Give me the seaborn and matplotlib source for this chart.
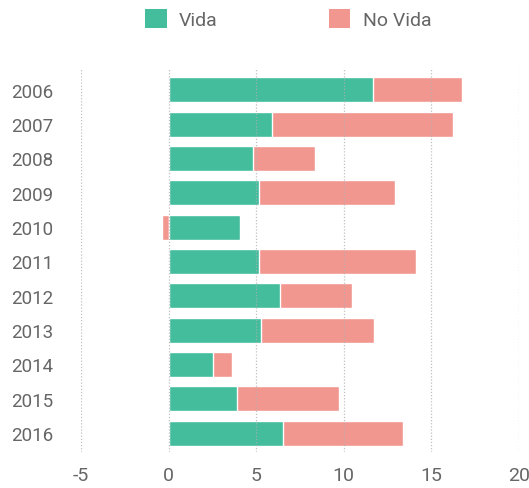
import matplotlib
matplotlib.use("Agg")
import matplotlib.pyplot as plt
from matplotlib.patches import Patch
import seaborn as sns
import pandas as pd

years = ["2006", "2007", "2008", "2009", "2010", "2011", "2012", "2013", "2014", "2015", "2016"]
vida = [11.67, 5.88, 4.84, 5.14, 4.07, 5.14, 6.34, 5.27, 2.53, 3.90, 6.51]
no_vida = [5.09, 10.37, 3.52, 7.79, -0.35, 8.99, 4.13, 6.46, 1.09, 5.83, 6.87]
x_ticks = [-5, 0, 5, 10, 15, 20]

green = "#43bd9c"
salmon = "#f29790"
text_color = "#666666"

sns.set_theme(style="white")
plt.rcParams["font.family"] = ["Roboto", "DejaVu Sans"]

# outer (salmon) bar extends from 0 to vida+no_vida when positive, or to no_vida if negative
outer = [v + n if n >= 0 else n for v, n in zip(vida, no_vida)]
df = pd.DataFrame({"year": years, "vida": vida, "outer": outer})

fig = plt.figure(figsize=(5.29, 4.89), dpi=100)
ax = fig.add_axes([0.153, 0.0736, 0.828, 0.783])

sns.barplot(data=df, y="year", x="outer", color=salmon, saturation=1, width=0.73, ax=ax, orient="h")
sns.barplot(data=df, y="year", x="vida", color=green, saturation=1, width=0.73, ax=ax, orient="h")

ax.set_xlim(-5, 20)
ax.set_ylim(10.55, -0.6)
ax.set_xticks(x_ticks)
ax.set_xticklabels([str(t) for t in x_ticks])
ax.set_xlabel("")
ax.set_ylabel("")
for s in ax.spines.values():
    s.set_visible(False)
ax.set_axisbelow(False)
ax.grid(axis="x", color="#b0b0b0", linestyle=(0, (1, 1.5)), linewidth=0.9, alpha=0.8)
ax.grid(axis="y", visible=False)
ax.tick_params(axis="x", length=0, pad=10, labelsize=14, labelcolor=text_color)
ax.tick_params(axis="y", length=0, pad=20, labelsize=13.5, labelcolor=text_color)

handles = [Patch(facecolor=green, edgecolor="none", label="Vida"),
           Patch(facecolor=salmon, edgecolor="none", label="No Vida")]
leg = fig.legend(handles=handles, loc="center", bbox_to_anchor=(0.545, 0.959), ncol=2,
                 frameon=False, fontsize=14, handlelength=1.1, handleheight=1.1,
                 handletextpad=0.65, columnspacing=5.7)
for t in leg.get_texts():
    t.set_color(text_color)

fig.savefig("out.png", dpi=100)
